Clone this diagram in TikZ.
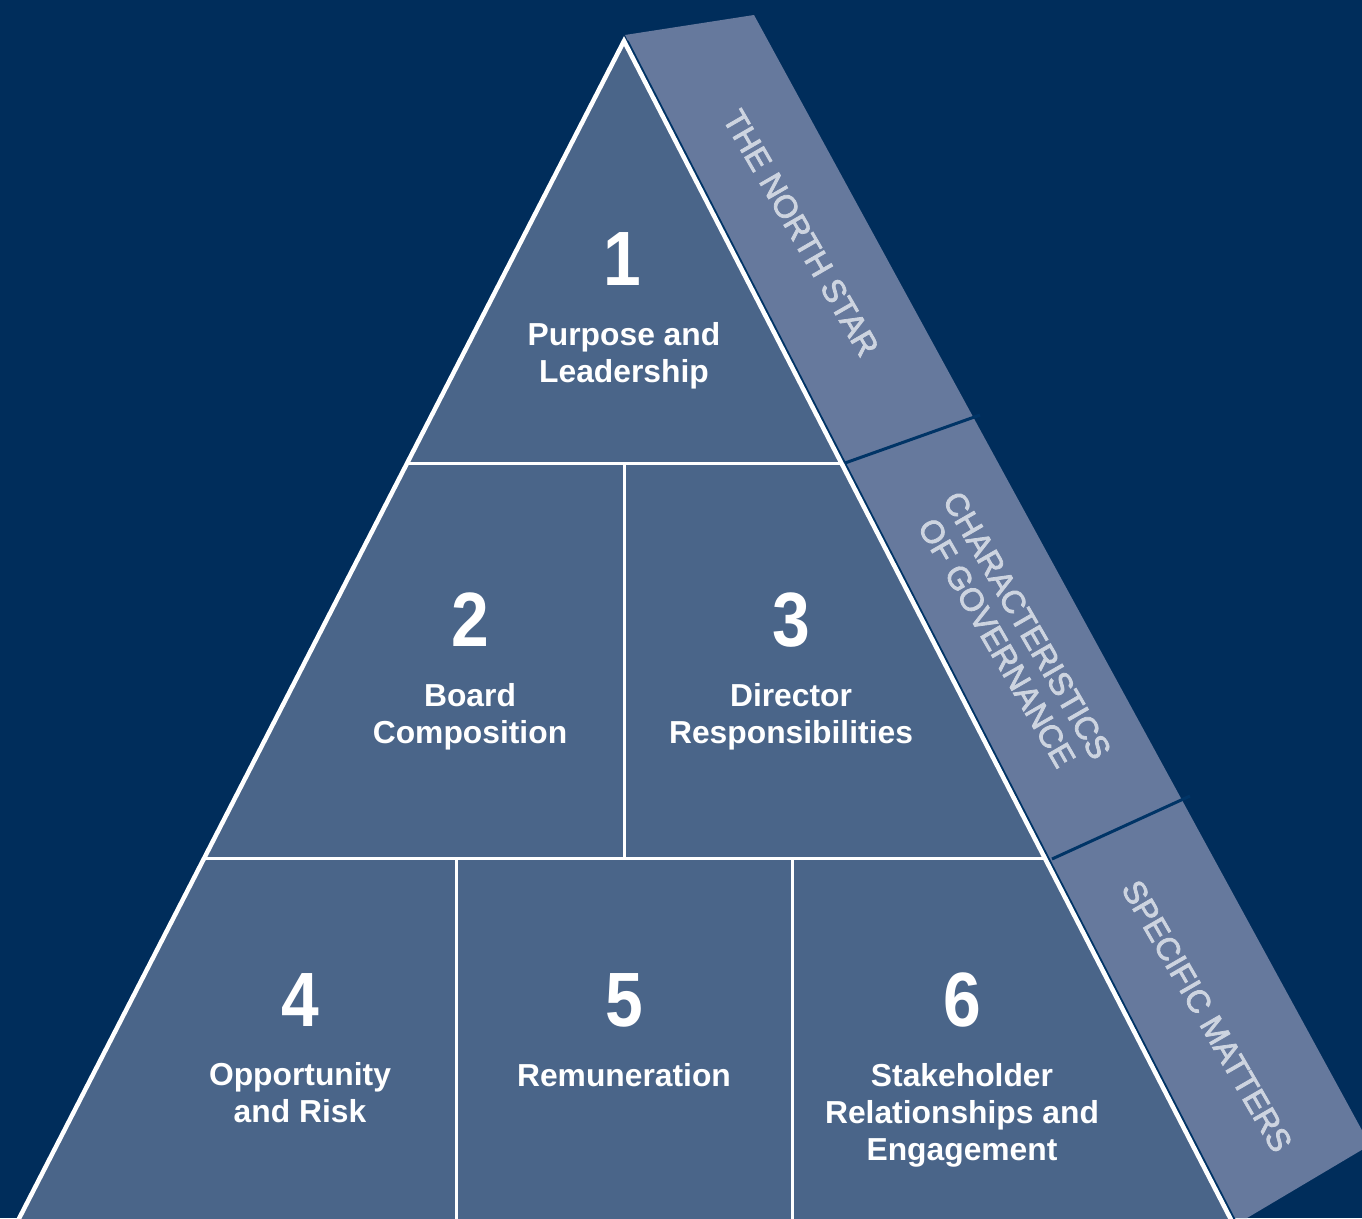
\documentclass[tikz,border=0pt]{standalone}
\usepackage{fontspec}
\setmainfont{Liberation Sans}
\newfontfamily\bandfont[FakeBold=2.5]{Liberation Sans}
\usepackage{graphicx}
\definecolor{navy}{HTML}{002D5B}
\definecolor{tier}{HTML}{4A6589}
\definecolor{band}{HTML}{66799D}
\definecolor{bandtext}{HTML}{CDD4E0}
\definecolor{seam}{HTML}{003466}

\begin{document}
\begin{tikzpicture}[
		x=1pt, y=-1pt,
		outline/.style = {draw=white, line width=4.5pt, line join=miter},
		divider/.style = {draw=white, line width=3pt},
		seamline/.style = {draw=seam, line width=3pt},
		num/.style = {text=white, anchor=base, font=\bfseries\fontsize{77}{77}\selectfont},
		tiertext/.style = {text=white, align=center, font=\bfseries\fontsize{31.8}{37}\selectfont},
		bandlabel/.style = {text=bandtext, align=center, rotate=-60, font=\bandfont\fontsize{32}{35}\selectfont}
	]
	\useasboundingbox (0,0) rectangle (1362,1218);
	\clip (0,0) rectangle (1362,1218);
	\fill[navy] (0,0) rectangle (1362,1218);

	% corners of the pyramid
	\coordinate (apex) at (624,41);
	\coordinate (botL) at (8,1240);
	\coordinate (botR) at (1241.5,1240);
	\coordinate (upL) at (407,463);
	\coordinate (upR) at (841,463);
	\coordinate (midL) at (204,858);
	\coordinate (midR) at (1044,858);

	% side band
	\coordinate (bandA) at (625,35);
	\coordinate (bandB) at (754,15);
	\coordinate (bandC) at (1370,1145);
	\coordinate (bandD) at (1247,1218);
	\fill[band] (bandA) -- (bandB) -- (bandC) -- (bandD) -- (1230,1218) -- cycle;
	\draw[seamline] (845,463) -- (980,415);
	\draw[seamline] (1052,859) -- (1190,796);
	\draw[seam, line width=2pt] ([xshift=3.6pt]apex) -- ([xshift=3.6pt]botR);

	% pyramid
	\fill[tier] (apex) -- (botL) -- (botR) -- cycle;
	\draw[divider] (upL) -- (upR);
	\draw[divider] (midL) -- (midR);
	\draw[divider] (624,463) -- (624,858);
	\draw[divider] (456,858) -- (456,1240);
	\draw[divider] (792,858) -- (792,1240);
	\draw[outline] (botL) -- (apex) -- (botR);

	% tiers
	\node[num] (n1) at (622,285) {\scalebox{0.88}[1]{1}};
	\node[num] (n2) at (470,646) {\scalebox{0.88}[1]{2}};
	\node[num] (n3) at (791,646) {\scalebox{0.88}[1]{3}};
	\node[num] (n4) at (300,1026) {\scalebox{0.88}[1]{4}};
	\node[num] (n5) at (624,1026) {\scalebox{0.88}[1]{5}};
	\node[num] (n6) at (962,1026) {\scalebox{0.88}[1]{6}};

	\node[tiertext] (t1) at (624,356) {Purpose and\\Leadership};
	\node[tiertext] (t2) at (470,717) {Board\\Composition};
	\node[tiertext] (t3) at (791,717) {Director\\Responsibilities};
	\node[tiertext] (t4) at (300,1092.5) {Opportunity\\and Risk};
	\node[tiertext, anchor=base] (t5) at (624,1086) {Remuneration};
	\node[tiertext] (t6) at (962,1115) {Stakeholder\\Relationships and\\Engagement};

	% band labels
	\node[bandlabel] (b1) at (801,233) {THE NORTH STAR};
	\node[bandlabel] (b2) at (1012,634) {CHARACTERISTICS\\OF GOVERNANCE};
	\node[bandlabel] (b3) at (1207,1016) {SPECIFIC MATTERS};
\end{tikzpicture}
\end{document}
